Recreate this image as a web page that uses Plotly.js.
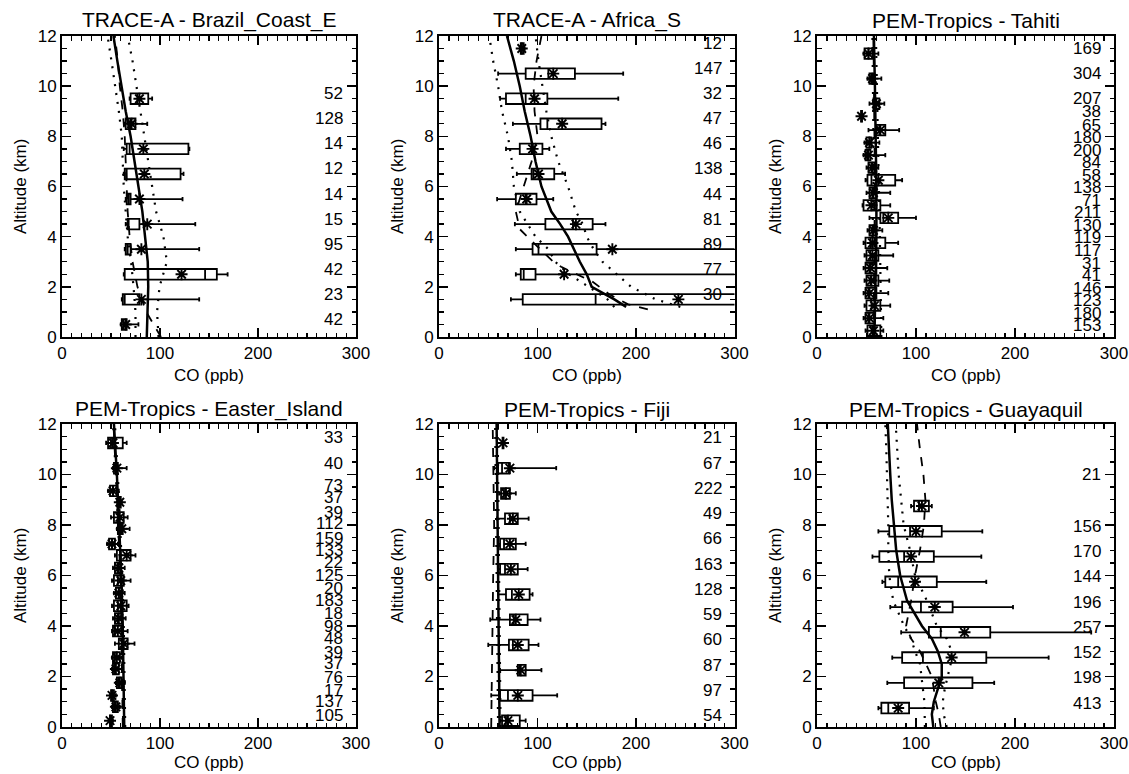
<!DOCTYPE html>
<html><head><meta charset="utf-8">
<script src="https://cdn.plot.ly/plotly-3.0.1.min.js"></script>
<style>html,body{margin:0;padding:0;background:#fff}#chart{width:1129px;height:774px}</style>
</head><body><div id="chart"></div>
<script>
// ---------------- DATA ----------------
// TRACE-A - Brazil_Coast_E
const brazilAlt    = [9.5, 8.5, 7.5, 6.5, 5.5, 4.5, 3.5, 2.5, 1.5, 0.5];
const brazilQ1     = [70, 65, 66, 64, 66, 67, 65, 64, 62, 61];
const brazilMedian = [77, 70, 69, 66, 68, 68, 67, 146, 64, 63];
const brazilQ3     = [88, 75, 129, 121, 70, 79, 70, 158, 79, 66];
const brazilLow    = [69, 64, 63, 63, 65, 65, 64, 63, 61, 60];
const brazilHigh   = [92, 87, 130, 124, 123, 136, 140, 169, 140, 78];
const brazilMean   = [79, 71, 83, 84, 79, 87, 81, 122, 81, 65];
const brazilCount  = [52, 128, 14, 12, 14, 15, 95, 42, 23, 42];
const brazilCurveAlt   = [0, 1, 2, 3, 4, 5, 6, 7, 8, 9, 10, 11, 12];
const brazilSolid      = [86.5, 87.5, 88, 87.5, 85, 82, 78, 74, 70, 65, 60.5, 56.5, 52.5];
const brazilDottedHigh = [98.5, 97, 99.5, 107, 103.5, 96, 92, 88, 84, 80, 76.5, 72, 67];
const brazilDottedLow  = [75, 75, 73, 70.5, 67, 65, 63, 62, 61, 58, 54.5, 50.5, 46.5];
const brazilDashed     = [101, 86, 77, 72, 69, 67, 66, 65, 64, 62, 59, 57, 54];

// TRACE-A - Africa_S
const africaAlt    = [11.5, 10.5, 9.5, 8.5, 7.5, 6.5, 5.5, 4.5, 3.5, 2.5, 1.5];
const africaQ1     = [83, 88, 68, 103, 82, 94, 78, 108, 95, 83, 85];
const africaMedian = [84, 111, 88, 110, 94, 96, 88, 136, 101, 86, 159];
const africaQ3     = [86, 138, 110, 165, 105, 117, 99, 156, 160, 98, 340];
const africaLow    = [82, 60, 62, 75, 68, 79, 59, 77, 78, 78, 73];
const africaHigh   = [87, 187, 182, 169, 112, 128, 116, 169, 400, 400, 400];
const africaMean   = [84, 116, 97, 125, 95, 101, 89, 139, 176, 127, 243];
const africaCount  = [12, 147, 32, 47, 46, 138, 44, 81, 89, 77, 30];
const africaCurveAlt   = [1.2, 1.5, 2, 2.5, 3, 3.5, 4, 4.5, 5, 6, 7, 8, 9, 10, 11, 12];
const africaSolid      = [190, 178, 155, 150, 143, 137, 131, 123, 114, 104, 98, 93, 87, 82, 76, 69];
const africaDottedHigh = [245, 220, 195, 180, 166, 157, 150, 146, 139, 131, 121, 114, 109, 105, 101, 98];
const africaDottedLow  = [178, 171, 152, 132, 118, 111, 98, 90, 82, 76, 74, 70, 64, 60, 55, 51];
const africaDashAlt    = [1.1, 1.3, 1.7, 2.2, 2.8, 3.0, 3.6, 4.0, 4.3, 5.0, 6.0, 7.0, 8.0, 9.0, 10.0, 11.0, 12.0];
const africaDashed     = [212, 192, 173, 156, 124, 116, 100, 90, 82, 78, 86, 94, 100, 97, 96, 99, 104];

// PEM-Tropics - Tahiti
const tahitiAlt    = [11.3, 10.3, 9.3, 8.8, 8.25, 7.75, 7.25, 6.75, 6.25, 5.75, 5.25, 4.75, 4.25, 3.75, 3.25, 2.75, 2.25, 1.75, 1.25, 0.75, 0.25];
const tahitiQ1     = [48, 53, 57, 44.5, 60, 50, 49, 52, 51, 53, 47, 64, 53, 49, 50, 49, 50, 49, 50, 49, 51];
const tahitiMedian = [52, 55, 59, 45, 63, 53, 51, 55, 55, 56, 55, 67, 56, 54, 54, 53, 54, 52, 55, 52, 56];
const tahitiQ3     = [56, 58, 63, 45.5, 69, 55, 54, 58, 79, 60, 64, 82, 59, 69, 62, 60, 62, 60, 64, 58, 64];
const tahitiLow    = [47, 51, 53, 44, 52, 48, 47, 50, 49, 50, 46, 53, 51, 47, 48, 47, 48, 47, 48, 47, 49];
const tahitiHigh   = [62, 65, 68, 46, 83, 63, 69, 62, 86, 74, 74, 100, 66, 82, 77, 71, 73, 72, 74, 67, 67];
const tahitiMean   = [52, 56, 60, 45, 64, 53, 52, 56, 62, 57, 55, 72, 57, 56, 56, 54, 55, 53, 58, 53, 57];
const tahitiCount  = [169, 304, 207, 38, 65, 180, 200, 84, 58, 138, 71, 211, 130, 119, 117, 31, 41, 146, 123, 180, 153];
const tahitiCurveAlt   = [0, 2, 4, 6, 8, 10, 12];
const tahitiSolid      = [58, 59, 60, 60, 59.5, 58.5, 57.5];
const tahitiDottedHigh = [65, 64.5, 63.5, 62.5, 61.5, 60.5, 59.5];
const tahitiDottedLow  = [54, 55, 56.5, 57, 57, 56.5, 56];
const tahitiDashed     = [57, 57.5, 58.5, 58.5, 58, 57.5, 57];

// PEM-Tropics - Easter_Island
const easterAlt    = [11.25, 10.25, 9.35, 8.9, 8.3, 7.85, 7.25, 6.8, 6.3, 5.8, 5.3, 4.8, 4.3, 3.8, 3.3, 2.75, 2.3, 1.75, 1.25, 0.8, 0.25];
const easterQ1     = [47, 53, 49, 58, 53, 57, 48, 56, 54, 53, 55, 53, 54, 52, 58, 52, 52, 56, 50, 52, 49];
const easterMedian = [50, 55, 52, 59, 57, 60, 51, 60, 57, 57, 58, 57, 57, 54, 61, 54, 54, 58, 51, 54, 50];
const easterQ3     = [62, 57, 56, 60, 63, 62, 54, 70, 60, 63, 61, 66, 61, 61, 67, 59, 58, 61, 53, 57, 51];
const easterLow    = [45, 52, 47, 57, 50, 56, 46, 54, 52, 51, 53, 51, 52, 51, 54, 51, 51, 55, 49, 51, 48];
const easterHigh   = [66, 66, 58, 61, 67, 69, 57, 75, 64, 70, 64, 68, 65, 67, 74, 61, 61, 64, 55, 59, 52];
const easterMean   = [52, 56, 52, 59, 59, 61, 51, 66, 58, 60, 58, 60, 58, 57, 63, 56, 55, 59, 51, 55, 49];
const easterCount  = [33, 40, 73, 37, 39, 112, 159, 133, 22, 125, 20, 183, 18, 98, 48, 39, 37, 76, 17, 137, 105];
const easterCurveAlt   = [0, 2, 4, 6, 8, 10, 12];
const easterSolid      = [63.5, 63, 62, 60.5, 58.5, 56, 53];
const easterDottedHigh = [64.5, 64, 63, 61.5, 59.5, 57, 54];
const easterDottedLow  = [62.5, 62, 61, 59.5, 57.5, 55, 52];
const easterDashed     = [62, 61.5, 60.5, 59.5, 57.5, 55, 52.5];

// PEM-Tropics - Fiji
const fijiAlt    = [11.25, 10.25, 9.25, 8.25, 7.25, 6.25, 5.25, 4.25, 3.25, 2.25, 1.25, 0.25];
const fijiQ1     = [64.5, 60, 63, 67, 62, 62, 68, 72, 71, 80, 62, 64];
const fijiMedian = [65, 64, 66, 72, 66, 67, 74, 76, 75, 82, 70, 68];
const fijiQ3     = [65.5, 71, 72, 80, 78, 80, 92, 90, 91, 88, 95, 82];
const fijiLow    = [64, 56, 61, 59, 60, 60, 60, 52, 50, 62, 53, 62];
const fijiHigh   = [66, 119, 78, 91, 88, 90, 95, 103, 101, 104, 120, 88];
const fijiMean   = [65, 72, 68, 75, 72, 73, 81, 78, 80, 83, 80, 70];
const fijiCount  = [21, 67, 222, 49, 66, 163, 128, 59, 60, 87, 97, 54];
const fijiCurveAlt   = [0, 2, 4, 6, 8, 10, 12];
const fijiSolid      = [61.5, 61, 60.5, 60, 59.5, 59, 58.5];
const fijiDottedHigh = [62.5, 62, 61.5, 61, 60.5, 60, 59.5];
const fijiDottedLow  = [60, 59.5, 59, 58.5, 58, 57.5, 57];
const fijiDashed     = [53, 53.5, 54, 55, 56, 55.5, 54.5];

// PEM-Tropics - Guayaquil
const guayaquilAlt    = [8.75, 7.75, 6.75, 5.75, 4.75, 3.75, 2.75, 1.75, 0.75];
const guayaquilQ1     = [98, 73, 63, 69, 86, 113, 86, 88, 65];
const guayaquilMedian = [103, 94, 88, 82, 105, 125, 107, 123, 72];
const guayaquilQ3     = [113, 126, 118, 121, 137, 175, 171, 157, 93];
const guayaquilLow    = [95, 62, 56, 66, 74, 85, 76, 71, 62];
const guayaquilHigh   = [116, 167, 166, 171, 198, 277, 234, 179, 118];
const guayaquilMean   = [106, 100, 95, 99, 119, 149, 136, 123, 82];
const guayaquilCount  = [21, 156, 170, 144, 196, 257, 152, 198, 413];
const guayaquilCountAlt = [9.8, 7.75, 6.75, 5.75, 4.75, 3.75, 2.75, 1.75, 0.75];
const guayaquilCurveAlt   = [0, 0.5, 1, 1.5, 2, 2.5, 3, 3.5, 4, 5, 6, 7, 8, 9, 10, 11, 12];
const guayaquilSolid      = [117.5, 116, 118, 122, 126, 126, 122, 116, 106, 91, 84, 80, 77.5, 75.5, 74, 73, 71.5];
const guayaquilDottedHigh = [131, 128, 127, 129, 132, 135, 136, 131, 121, 111, 99, 94, 87.5, 85, 82.5, 81, 79.5];
const guayaquilDottedLow  = [109, 109, 108.5, 107, 105.5, 104, 99, 95, 88, 77, 73, 72, 72, 71.5, 70.5, 70, 69];
const guayaquilDashed     = [125, 123, 120, 118, 116, 110, 104, 95, 90, 95, 99, 104, 108, 109.5, 107.5, 104, 101];

const titles = ['TRACE-A - Brazil_Coast_E', 'TRACE-A - Africa_S', 'PEM-Tropics - Tahiti',
                'PEM-Tropics - Easter_Island', 'PEM-Tropics - Fiji', 'PEM-Tropics - Guayaquil'];
const xTickVals = [0, 100, 200, 300];
const yTickVals = [0, 2, 4, 6, 8, 10, 12];

// ---------------- BUILD ----------------
const panels = [
  {alt: brazilAlt, q1: brazilQ1, med: brazilMedian, q3: brazilQ3, lo: brazilLow, hi: brazilHigh, mean: brazilMean, n: brazilCount, nAlt: brazilAlt,
   sAlt: brazilCurveAlt, solid: brazilSolid, dAlt: brazilCurveAlt, dHi: brazilDottedHigh, dLo: brazilDottedLow, dsAlt: brazilCurveAlt, dashed: brazilDashed},
  {alt: africaAlt, q1: africaQ1, med: africaMedian, q3: africaQ3, lo: africaLow, hi: africaHigh, mean: africaMean, n: africaCount, nAlt: africaAlt,
   sAlt: africaCurveAlt, solid: africaSolid, dAlt: africaCurveAlt, dHi: africaDottedHigh, dLo: africaDottedLow, dsAlt: africaDashAlt, dashed: africaDashed},
  {alt: tahitiAlt, q1: tahitiQ1, med: tahitiMedian, q3: tahitiQ3, lo: tahitiLow, hi: tahitiHigh, mean: tahitiMean, n: tahitiCount, nAlt: tahitiAlt,
   sAlt: tahitiCurveAlt, solid: tahitiSolid, dAlt: tahitiCurveAlt, dHi: tahitiDottedHigh, dLo: tahitiDottedLow, dsAlt: tahitiCurveAlt, dashed: tahitiDashed},
  {alt: easterAlt, q1: easterQ1, med: easterMedian, q3: easterQ3, lo: easterLow, hi: easterHigh, mean: easterMean, n: easterCount, nAlt: easterAlt,
   sAlt: easterCurveAlt, solid: easterSolid, dAlt: easterCurveAlt, dHi: easterDottedHigh, dLo: easterDottedLow, dsAlt: easterCurveAlt, dashed: easterDashed},
  {alt: fijiAlt, q1: fijiQ1, med: fijiMedian, q3: fijiQ3, lo: fijiLow, hi: fijiHigh, mean: fijiMean, n: fijiCount, nAlt: fijiAlt,
   sAlt: fijiCurveAlt, solid: fijiSolid, dAlt: fijiCurveAlt, dHi: fijiDottedHigh, dLo: fijiDottedLow, dsAlt: fijiCurveAlt, dashed: fijiDashed},
  {alt: guayaquilAlt, q1: guayaquilQ1, med: guayaquilMedian, q3: guayaquilQ3, lo: guayaquilLow, hi: guayaquilHigh, mean: guayaquilMean, n: guayaquilCount, nAlt: guayaquilCountAlt,
   sAlt: guayaquilCurveAlt, solid: guayaquilSolid, dAlt: guayaquilCurveAlt, dHi: guayaquilDottedHigh, dLo: guayaquilDottedLow, dsAlt: guayaquilCurveAlt, dashed: guayaquilDashed}
];

const W = 1129, H = 774;
const FONT = '"Liberation Sans", Arial, Helvetica, sans-serif';
const colPx = [[62, 356], [439, 734.5], [817, 1114]];
const rowPx = [[36, 337], [424, 727]];
const titleY = [20, 409];
const xTitleY = [375, 762];

const traces = [];
const annotations = [];
const layout = {
  width: W, height: H, margin: {l: 0, r: 0, t: 0, b: 0},
  paper_bgcolor: '#fff', plot_bgcolor: 'rgba(0,0,0,0)', showlegend: false,
  font: {family: FONT, size: 17, color: '#000'},
  annotations: annotations
};

function axisBase(range, vals, minorDtick) {
  return {
    range: range, tickmode: 'array', tickvals: vals, ticktext: vals.map(String),
    ticks: 'inside', ticklen: 9, tickwidth: 1.6, tickcolor: '#000',
    minor: {tickmode: 'linear', tick0: 0, dtick: minorDtick, ticks: 'inside', ticklen: 4.5, tickwidth: 1.3, tickcolor: '#000', showgrid: false},
    mirror: 'allticks', showline: true, linewidth: 2, linecolor: '#000',
    showgrid: false, zeroline: false, fixedrange: true,
    tickfont: {family: FONT, size: 17, color: '#000'}
  };
}

panels.forEach((p, i) => {
  const k = i + 1;
  const xa = k === 1 ? 'x' : 'x' + k, ya = k === 1 ? 'y' : 'y' + k;
  const col = i % 3, row = Math.floor(i / 3);
  const xd = [colPx[col][0] / W, colPx[col][1] / W];
  const yd = [1 - rowPx[row][1] / H, 1 - rowPx[row][0] / H];
  layout['xaxis' + (k === 1 ? '' : k)] = Object.assign(axisBase([0, 300], xTickVals, 10), {domain: xd, anchor: ya});
  layout['yaxis' + (k === 1 ? '' : k)] = Object.assign(axisBase([0, 12], yTickVals, 0.5), {domain: yd, anchor: xa});

  // model curves
  traces.push({type: 'scatter', mode: 'lines', x: p.dHi, y: p.dAlt, xaxis: xa, yaxis: ya,
               line: {color: '#000', width: 2.2, dash: '2px,7px'}, hoverinfo: 'skip'});
  traces.push({type: 'scatter', mode: 'lines', x: p.dLo, y: p.dAlt, xaxis: xa, yaxis: ya,
               line: {color: '#000', width: 2.2, dash: '2px,7px'}, hoverinfo: 'skip'});
  traces.push({type: 'scatter', mode: 'lines', x: p.dashed, y: p.dsAlt, xaxis: xa, yaxis: ya,
               line: {color: '#000', width: 1.8, dash: '9px,9px'}, hoverinfo: 'skip'});
  traces.push({type: 'scatter', mode: 'lines', x: p.solid, y: p.sAlt, xaxis: xa, yaxis: ya,
               line: {color: '#000', width: 2.5}, hoverinfo: 'skip'});

  // observation boxes
  traces.push({type: 'box', orientation: 'h', y: p.alt, q1: p.q1, median: p.med, q3: p.q3,
               lowerfence: p.lo, upperfence: p.hi, width: 0.42, whiskerwidth: 0.4,
               boxpoints: false, fillcolor: 'rgba(0,0,0,0)', line: {color: '#000', width: 1.8},
               xaxis: xa, yaxis: ya, hoverinfo: 'skip'});
  // means
  traces.push({type: 'scatter', mode: 'markers', x: p.mean, y: p.alt, xaxis: xa, yaxis: ya,
               marker: {symbol: 'asterisk-open', size: 10, color: '#000', line: {color: '#000', width: 1.9}},
               hoverinfo: 'skip'});

  // counts
  p.n.forEach((n, j) => {
    annotations.push({xref: xa, yref: ya, x: 288, y: p.nAlt[j], text: String(n), showarrow: false,
                      xanchor: 'right', yanchor: 'middle', yshift: 5, borderpad: 0,
                      font: {family: FONT, size: 17, color: '#000'}});
  });

  // titles
  const cx = (xd[0] + xd[1]) / 2;
  annotations.push({xref: 'paper', yref: 'paper', x: cx, y: 1 - titleY[row] / H, text: titles[i],
                    showarrow: false, xanchor: 'center', yanchor: 'middle',
                    font: {family: FONT, size: 21, color: '#000'}});
  annotations.push({xref: 'paper', yref: 'paper', x: cx, y: 1 - xTitleY[row] / H, text: 'CO (ppb)',
                    showarrow: false, xanchor: 'center', yanchor: 'middle',
                    font: {family: FONT, size: 17, color: '#000'}});
  annotations.push({xref: 'paper', yref: 'paper', x: (colPx[col][0] - 41.5) / W, y: (yd[0] + yd[1]) / 2,
                    text: 'Altitude (km)', textangle: -90, showarrow: false, xanchor: 'center', yanchor: 'middle',
                    font: {family: FONT, size: 17, color: '#000'}});
});

Plotly.newPlot('chart', traces, layout, {staticPlot: true});
</script></body></html>
